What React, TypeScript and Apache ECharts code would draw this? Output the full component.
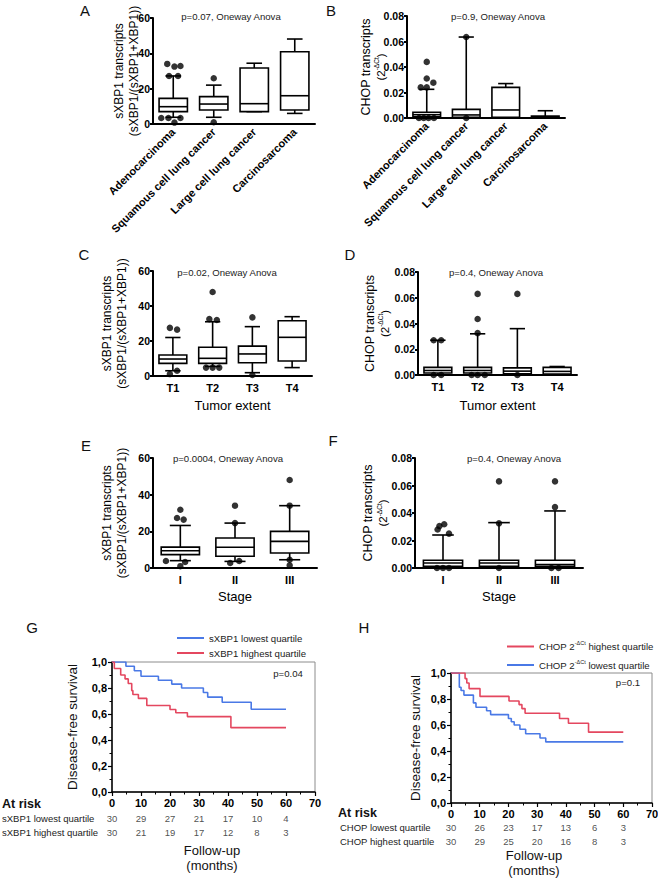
import React, { useEffect, useRef } from 'react';
import * as echarts from 'echarts';

const FONT = '"Liberation Sans", Arial, Helvetica, sans-serif';
const BLUE = '#4a79e6';
const RED = '#e4475f';

// ---------- categories ----------
const histologyCategories = ['Adenocarcinoma', 'Squamous cell lung cancer', 'Large cell lung cancer', 'Carcinosarcoma'];
const tumorCategories = ['T1', 'T2', 'T3', 'T4'];
const stageCategories = ['I', 'II', 'III'];

// ---------- tick values ----------
const sxbpTicks = [0, 20, 40, 60];
const chopTicks = [0, 0.02, 0.04, 0.06, 0.08];
const survivalTicks = [0, 0.2, 0.4, 0.6, 0.8, 1.0];
const followUpTicks = [0, 10, 20, 30, 40, 50, 60, 70];

// ---------- box plots: [min, Q1, median, Q3, max] ----------
const sxbpByHistology = [
  [3.8, 7, 9.8, 14.5, 27.2],
  [3.8, 7.9, 11.3, 15.5, 22],
  [7, 7, 11.5, 31.7, 34.4],
  [6, 7.9, 16, 40.9, 48.1],
];
// outliers: [category, value, side-by-side slot]
const sxbpHistologyOutliers = [
  [0, 34, -1], [0, 32.5, 0.2], [0, 32.8, 1.2], [0, 27.2, -0.7], [0, 27.2, 0.8],
  [0, 3.4, -2], [0, 3.4, -0.8], [0, 3.4, 1.2], [0, 0.8, 0.2],
  [1, 25.9, 0], [1, 1, 0],
];
const chopByHistology = [
  [0, 0.001, 0.0026, 0.0045, 0.0225],
  [0, 0.0005, 0.0024, 0.0068, 0.0635],
  [0, 0.0005, 0.0063, 0.024, 0.027],
  [0.0005, 0.0008, 0.001, 0.0015, 0.0057],
];
const chopHistologyOutliers = [
  [0, 0.044, 0], [0, 0.031, 0], [0, 0.0277, 1.1], [0, 0.024, -1], [0, 0.024, 0],
  [0, 0, -1.3], [0, 0, -0.5], [0, 0, 0.3], [0, 0, 1.2],
  [1, 0.0635, 0], [1, 0, 0],
];
const sxbpByTumor = [
  [3, 7.2, 9.7, 12, 22],
  [5.5, 7.2, 10.1, 16.4, 31],
  [1.9, 7.6, 12.6, 17.1, 28.2],
  [4.8, 8.6, 22.1, 31.6, 33.9],
];
const sxbpTumorOutliers = [
  [0, 27.5, -0.5], [0, 26.5, 0.7], [0, 3, 0.7], [0, 1.1, -0.5],
  [1, 48, 0], [1, 32.5, -0.55], [1, 32, 0.7], [1, 4.8, -1.1], [1, 4.8, 0], [1, 4.8, 1.1],
  [2, 33.5, 0], [2, 0.6, 0],
];
const chopByTumor = [
  [0, 0.0015, 0.0035, 0.0059, 0.027],
  [0, 0.0015, 0.0035, 0.0059, 0.032],
  [0, 0.001, 0.003, 0.0055, 0.036],
  [0, 0.0008, 0.0028, 0.0059, 0.0066],
];
const chopTumorOutliers = [
  [0, 0.027, -0.7], [0, 0.027, 0.55], [0, 0, -0.7], [0, 0, 0.55],
  [1, 0.063, 0], [1, 0.0435, 0], [1, 0.0325, 0], [1, 0, -1], [1, 0, 0], [1, 0, 1.2],
  [2, 0.063, 0], [2, 0, 0],
];
const sxbpByStage = [
  [4, 7.3, 9.4, 11.4, 23.2],
  [3.6, 6.4, 11.3, 16.4, 24.5],
  [4.5, 8.2, 14.5, 20, 34],
];
const sxbpStageOutliers = [
  [0, 31.8, 0], [0, 27.3, -0.55], [0, 26.4, 0.55], [0, 3.8, -2.4], [0, 3.3, 0.8], [0, 1, 0],
  [1, 34, 0], [1, 24.5, 0], [1, 2.7, -0.8], [1, 3.8, 0.7],
  [2, 48, 0], [2, 34, 0], [2, 4.5, 0], [2, 1.5, 0],
];
const chopByStage = [
  [0, 0.0012, 0.0036, 0.0056, 0.024],
  [0, 0.0012, 0.0036, 0.0056, 0.033],
  [0, 0.0012, 0.0025, 0.0056, 0.0415],
];
const chopStageOutliers = [
  [0, 0.0318, 0.2], [0, 0.0305, -0.6], [0, 0.028, -0.9], [0, 0.025, 1],
  [0, 0, -1], [0, 0, 0], [0, 0, 1],
  [1, 0.063, 0], [1, 0.0325, 0], [1, 0, 0],
  [2, 0.063, 0], [2, 0.0443, 0], [2, 0, -0.6], [2, 0, 0.6],
];

const anovaTexts = [
  'p=0.07, Oneway Anova', 'p=0.9, Oneway Anova', 'p=0.02, Oneway Anova',
  'p=0.4, Oneway Anova', 'p=0.0004, Oneway Anova', 'p=0.4, Oneway Anova',
];
const logRankTexts = ['p=0.04', 'p=0.1'];

// ---------- Kaplan-Meier ----------
const sxbpLowTimes = [0, 4.8, 7.7, 10, 16, 20.6, 24, 31.5, 33, 38, 48, 60];
const sxbpLowSurv = [1, 0.967, 0.933, 0.89, 0.86, 0.83, 0.8, 0.765, 0.73, 0.69, 0.637, 0.637];
const sxbpHighTimes = [0, 0.8, 3, 4.5, 5.6, 6.8, 7.2, 9.1, 12, 20, 22, 26, 41, 60];
const sxbpHighSurv = [1, 0.95, 0.9, 0.87, 0.835, 0.78, 0.75, 0.72, 0.665, 0.635, 0.61, 0.58, 0.495, 0.495];
const chopLowTimes = [0, 2.9, 3.5, 4.5, 7.8, 8.7, 12.4, 13.8, 20, 21, 22, 24, 26, 31, 33, 60];
const chopLowSurv = [1, 0.89, 0.865, 0.83, 0.77, 0.737, 0.71, 0.68, 0.65, 0.625, 0.6, 0.567, 0.533, 0.5, 0.47, 0.47];
const chopHighTimes = [0, 4.9, 5.5, 6.3, 10.1, 20.2, 23.7, 24.7, 25.8, 37.8, 40.9, 47.9, 60];
const chopHighSurv = [1, 0.957, 0.923, 0.88, 0.82, 0.785, 0.757, 0.726, 0.69, 0.65, 0.613, 0.545, 0.545];

const riskTimes = [0, 10, 20, 30, 40, 50, 60];
const sxbpRiskRows = ['sXBP1 lowest quartile', 'sXBP1 highest quartile'];
const sxbpLowRisk = [30, 29, 27, 21, 17, 10, 4];
const sxbpHighRisk = [30, 21, 19, 17, 12, 8, 3];
const chopRiskRows = ['CHOP lowest quartile', 'CHOP highest quartile'];
const chopLowRisk = [30, 26, 23, 17, 13, 6, 3];
const chopHighRisk = [30, 29, 25, 20, 16, 8, 3];

// ---------- builder ----------
const SLOT = 6;
const SXBP_NAME = 'sXBP1 transcripts\n(sXBP1/(sXBP1+XBP1))';
const CHOP_NAME = '{a|CHOP transcripts}\n{b|(2}{s|-ΔCt}{b|)}';
const nameRich = {
  a: { fontSize: 12.5, lineHeight: 15, color: '#000', fontFamily: FONT },
  b: { fontSize: 11.5, lineHeight: 15, color: '#000', fontFamily: FONT },
  s: { fontSize: 6.5, lineHeight: 9, verticalAlign: 'top', color: '#000', fontFamily: FONT },
};

function boxRender(_params: any, api: any) {
  const c = api.value(0);
  const vals = [1, 2, 3, 4, 5].map((d) => api.value(d));
  const [lo, q1, med, q3, hi] = vals.map((v) => api.coord([c, v])[1]);
  const cx = api.coord([c, vals[2]])[0];
  const band = api.size([1, 0])[0];
  const half = band * 0.35;
  const cap = half * 0.55;
  const st = { stroke: '#000', lineWidth: 1.6, fill: null };
  const line = (x1: number, y1: number, x2: number, y2: number) => ({ type: 'line', shape: { x1, y1, x2, y2 }, style: st });
  return {
    type: 'group',
    children: [
      line(cx, hi, cx, q3),
      line(cx, q1, cx, lo),
      line(cx - cap, hi, cx + cap, hi),
      line(cx - cap, lo, cx + cap, lo),
      { type: 'rect', shape: { x: cx - half, y: q3, width: half * 2, height: Math.max(q1 - q3, 0.5) }, style: { fill: '#fff', stroke: '#000', lineWidth: 1.6 } },
      line(cx - half, med, cx + half, med),
    ],
  };
}

const boxPanels = [
  { grid: { left: 153, top: 18, width: 162, height: 106 }, cats: histologyCategories, boxes: sxbpByHistology, outliers: sxbpHistologyOutliers, ticks: sxbpTicks, digits: 0, name: SXBP_NAME, nameGap: 12, rotate: 45, xName: '', xGap: 0, letter: 'A', letterPos: [85, 10], p: anovaTexts[0], pPos: [231, 16] },
  { grid: { left: 407, top: 16, width: 158, height: 102 }, cats: histologyCategories, boxes: chopByHistology, outliers: chopHistologyOutliers, ticks: chopTicks, digits: 2, name: CHOP_NAME, nameGap: 19, rotate: 45, xName: '', xGap: 0, letter: 'B', letterPos: [331, 10], p: anovaTexts[1], pPos: [498, 16] },
  { grid: { left: 153, top: 271, width: 159, height: 105 }, cats: tumorCategories, boxes: sxbpByTumor, outliers: sxbpTumorOutliers, ticks: sxbpTicks, digits: 0, name: SXBP_NAME, nameGap: 24, rotate: 0, xName: 'Tumor extent', xGap: 21.5, letter: 'C', letterPos: [84, 254], p: anovaTexts[2], pPos: [227, 272] },
  { grid: { left: 418, top: 272, width: 159, height: 103 }, cats: tumorCategories, boxes: chopByTumor, outliers: chopTumorOutliers, ticks: chopTicks, digits: 2, name: CHOP_NAME, nameGap: 26, rotate: 0, xName: 'Tumor extent', xGap: 22.5, letter: 'D', letterPos: [350, 254], p: anovaTexts[3], pPos: [496, 272] },
  { grid: { left: 153, top: 458, width: 164, height: 110 }, cats: stageCategories, boxes: sxbpByStage, outliers: sxbpStageOutliers, ticks: sxbpTicks, digits: 0, name: SXBP_NAME, nameGap: 24, rotate: 0, xName: 'Stage', xGap: 20.5, letter: 'E', letterPos: [86, 445], p: anovaTexts[4], pPos: [228, 458] },
  { grid: { left: 415, top: 458, width: 168, height: 110 }, cats: stageCategories, boxes: chopByStage, outliers: chopStageOutliers, ticks: chopTicks, digits: 2, name: CHOP_NAME, nameGap: 24.5, rotate: 0, xName: 'Stage', xGap: 20.5, letter: 'F', letterPos: [333, 440], p: anovaTexts[5], pPos: [514, 458] },
];

const kmPanels = [
  {
    grid: { left: 112, top: 662, width: 203, height: 130 },
    riskGrid: { left: 112, top: 811, width: 203, height: 28 },
    rowMargin: 110, rows: sxbpRiskRows, risk: [sxbpLowRisk, sxbpHighRisk],
    curves: [
      { name: 'sXBP1 lowest quartile', t: sxbpLowTimes, s: sxbpLowSurv, color: BLUE },
      { name: 'sXBP1 highest quartile', t: sxbpHighTimes, s: sxbpHighSurv, color: RED },
    ],
    legendOrder: ['sXBP1 lowest quartile', 'sXBP1 highest quartile'],
    legend: { left: 172, top: 628, itemGap: 5 },
    nameGap: 32.5, letter: 'G', letterPos: [32, 627], p: logRankTexts[0], pPos: [288, 673],
    atRisk: [2, 804], follow: [212, 851],
  },
  {
    grid: { left: 451, top: 673, width: 201, height: 130 },
    riskGrid: { left: 451, top: 820, width: 201, height: 28 },
    rowMargin: 111, rows: chopRiskRows, risk: [chopLowRisk, chopHighRisk],
    curves: [
      { name: 'CHOP lowest', t: chopLowTimes, s: chopLowSurv, color: BLUE },
      { name: 'CHOP highest', t: chopHighTimes, s: chopHighSurv, color: RED },
    ],
    legendOrder: ['CHOP highest', 'CHOP lowest'],
    legend: { left: 502, top: 635, itemGap: 7 },
    nameGap: 28.5, letter: 'H', letterPos: [364, 627], p: logRankTexts[1], pPos: [628, 682],
    atRisk: [338, 813], follow: [534, 856],
  },
];

function text(x: number, y: number, str: string, size: number, extra: any = {}) {
  return {
    type: 'text', x, y, silent: true,
    style: { text: str, fontSize: size, fontFamily: FONT, fill: '#111', align: 'center', verticalAlign: 'middle', ...extra },
  };
}

function buildOption() {
  const grid: any[] = [];
  const xAxis: any[] = [];
  const yAxis: any[] = [];
  const series: any[] = [];
  const elements: any[] = [];
  const legend: any[] = [];

  boxPanels.forEach((p, i) => {
    grid.push({ ...p.grid, show: false, containLabel: false, outerBoundsMode: 'none' });
    xAxis.push({
      type: 'category', gridIndex: i, data: p.cats, boundaryGap: true,
      axisLine: { show: true, onZero: false, lineStyle: { color: '#000', width: 2 } },
      axisTick: { show: false }, splitLine: { show: false },
      axisLabel: { interval: 0, rotate: p.rotate, margin: 6, color: '#000', fontWeight: 'bold', fontSize: 11, fontFamily: FONT },
      name: p.xName, nameLocation: 'middle', nameGap: p.xGap, nameMoveOverlap: false,
      nameTextStyle: { fontSize: 13, lineHeight: 15, color: '#000', fontFamily: FONT },
    });
    const last = p.ticks[p.ticks.length - 1];
    yAxis.push({
      type: 'value', gridIndex: i, min: p.ticks[0], max: last, interval: p.ticks[1] - p.ticks[0],
      axisLine: { show: true, lineStyle: { color: '#000', width: 2 } },
      axisTick: { show: true, length: 3, lineStyle: { color: '#000', width: 2 } },
      splitLine: { show: false },
      axisLabel: { margin: 3, color: '#000', fontWeight: 'bold', fontSize: 10.5, fontFamily: FONT, formatter: (v: number) => v.toFixed(p.digits) },
      name: p.name, nameLocation: 'middle', nameRotate: 90, nameGap: p.nameGap, nameMoveOverlap: false,
      nameTextStyle: { fontSize: 12, lineHeight: 15, color: '#000', fontFamily: FONT, rich: nameRich },
    });
    series.push({
      type: 'custom', xAxisIndex: i, yAxisIndex: i, renderItem: boxRender, silent: true, z: 3,
      encode: { x: 0, y: [1, 2, 3, 4, 5] },
      data: p.boxes.map((b, c) => [c, ...b]),
    });
    series.push({
      type: 'scatter', xAxisIndex: i, yAxisIndex: i, symbol: 'circle', symbolSize: 6.5, silent: true, z: 4,
      itemStyle: { color: '#000' },
      data: p.outliers.map(([c, v, s]) => ({ value: [c, v], symbolOffset: [s * SLOT, 0] })),
    });
    elements.push(text(p.letterPos[0], p.letterPos[1], p.letter, 15));
    elements.push(text(p.pPos[0], p.pPos[1], p.p, 9.6, { fill: '#222' }));
  });

  kmPanels.forEach((k, j) => {
    const gi = 6 + j;
    const ri = 8 + j;
    grid[gi] = { ...k.grid, show: true, borderColor: '#8c8c8c', borderWidth: 1, backgroundColor: 'transparent', containLabel: false, outerBoundsMode: 'none' };
    grid[ri] = { ...k.riskGrid, show: false, containLabel: false, outerBoundsMode: 'none' };
    xAxis[gi] = {
      type: 'value', gridIndex: gi, min: followUpTicks[0], max: followUpTicks[followUpTicks.length - 1], interval: followUpTicks[1] - followUpTicks[0],
      axisLine: { show: true, onZero: false, lineStyle: { color: '#000', width: 1.5 } },
      axisTick: { show: true, length: 4, lineStyle: { color: '#000', width: 1.2 } },
      minorTick: { show: true, splitNumber: 2, length: 2.5, lineStyle: { color: '#000', width: 1 } },
      splitLine: { show: false },
      axisLabel: { margin: 5, color: '#000', fontWeight: 'bold', fontSize: 11, fontFamily: FONT },
    };
    yAxis[gi] = {
      type: 'value', gridIndex: gi, min: survivalTicks[0], max: survivalTicks[survivalTicks.length - 1], interval: survivalTicks[1] - survivalTicks[0],
      axisLine: { show: true, onZero: false, lineStyle: { color: '#000', width: 1.5 } },
      axisTick: { show: true, length: 4, lineStyle: { color: '#000', width: 1.2 } },
      minorTick: { show: true, splitNumber: 2, length: 2.5, lineStyle: { color: '#000', width: 1 } },
      splitLine: { show: false },
      axisLabel: { margin: 5, color: '#000', fontWeight: 'bold', fontSize: 11, fontFamily: FONT, formatter: (v: number) => v.toFixed(1).replace('.', ',') },
      name: 'Disease-free survival', nameLocation: 'middle', nameRotate: 90, nameGap: k.nameGap, nameMoveOverlap: false,
      nameTextStyle: { fontSize: 13.5, lineHeight: 15, color: '#111', fontFamily: FONT },
    };
    xAxis[ri] = { type: 'value', gridIndex: ri, min: followUpTicks[0], max: followUpTicks[followUpTicks.length - 1], show: false };
    yAxis[ri] = {
      type: 'category', gridIndex: ri, data: k.rows, inverse: true,
      axisLine: { show: false }, axisTick: { show: false }, splitLine: { show: false },
      axisLabel: { align: 'left', margin: k.rowMargin, fontSize: 9.5, color: '#222', fontFamily: FONT },
    };
    k.curves.forEach((c) => {
      series.push({
        type: 'line', name: c.name, xAxisIndex: gi, yAxisIndex: gi, step: 'end', symbol: 'none', silent: true, z: 5,
        color: c.color, lineStyle: { color: c.color, width: 1.6 }, itemStyle: { color: c.color },
        data: c.t.map((t, n) => [t, c.s[n]]),
      });
    });
    const riskData: any[] = [];
    k.risk.forEach((row, r) => row.forEach((n, m) => riskData.push([riskTimes[m], r, n])));
    series.push({
      type: 'scatter', xAxisIndex: ri, yAxisIndex: ri, symbolSize: 1, silent: true,
      itemStyle: { color: 'rgba(0,0,0,0)' },
      label: { show: true, position: 'inside', formatter: (p: any) => String(p.value[2]), fontSize: 9.5, color: '#222', fontFamily: FONT },
      data: riskData,
    });
    legend.push({
      data: k.legendOrder, left: k.legend.left, top: k.legend.top, orient: 'vertical',
      icon: 'rect', itemWidth: 27, itemHeight: 2, itemGap: k.legend.itemGap, selectedMode: false,
      textStyle: {
        fontSize: 9.6, color: '#222', fontFamily: FONT,
        rich: {
          n: { fontSize: 9.6, color: '#222', fontFamily: FONT, lineHeight: 13 },
          s: { fontSize: 5.5, color: '#222', fontFamily: FONT, lineHeight: 8, verticalAlign: 'top' },
        },
      },
      formatter: (name: string) =>
        name.startsWith('CHOP') ? `{n|CHOP 2}{s|-ΔCt}{n|${name.slice(4)} quartile}` : name,
    });
    elements.push(text(k.letterPos[0], k.letterPos[1], k.letter, 15));
    elements.push(text(k.pPos[0], k.pPos[1], k.p, 9.6, { fill: '#222' }));
    elements.push(text(k.atRisk[0], k.atRisk[1], 'At risk', 12.5, { align: 'left', fontWeight: 'bold', fill: '#111' }));
    elements.push(text(k.follow[0], k.follow[1] + 7, 'Follow-up\n(months)', 13, { lineHeight: 14.5 }));
  });

  return {
    animation: false,
    backgroundColor: '#fff',
    textStyle: { fontFamily: FONT },
    grid, xAxis, yAxis, series, legend,
    graphic: { elements },
  };
}

export default function App() {
  const ref = useRef<HTMLDivElement>(null);
  useEffect(() => {
    if (!ref.current) return;
    const chart = echarts.init(ref.current, null, { renderer: 'svg' });
    chart.setOption(buildOption() as any);
    return () => chart.dispose();
  }, []);
  return <div ref={ref} style={{ position: 'fixed', left: 0, top: 0, width: 658, height: 878, background: '#fff' }} />;
}
